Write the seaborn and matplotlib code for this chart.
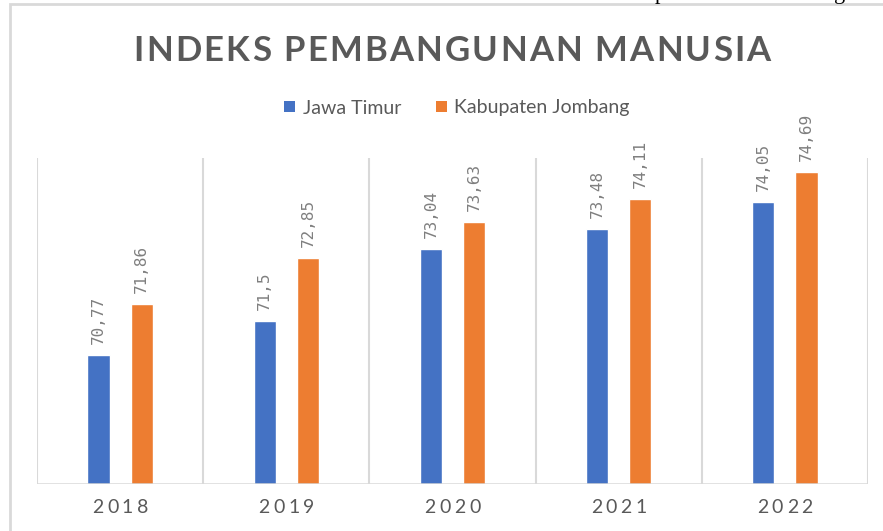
import numpy as np
import pandas as pd
import matplotlib
matplotlib.use("Agg")
import matplotlib.pyplot as plt
import matplotlib.transforms as mtransforms
from matplotlib.patches import Rectangle, Patch
from matplotlib.textpath import TextToPath
from matplotlib.font_manager import FontProperties
import seaborn as sns

# ---------------- data ----------------
years = ["2018", "2019", "2020", "2021", "2022"]
jawa_timur = [70.77, 71.5, 73.04, 73.48, 74.05]
jombang = [71.86, 72.85, 73.63, 74.11, 74.69]
series_names = ["Jawa Timur", "Kabupaten Jombang"]
title_text = "INDEKS PEMBANGUNAN MANUSIA"

df = pd.DataFrame({
    "year": years * 2,
    "value": jawa_timur + jombang,
    "series": [series_names[0]] * len(years) + [series_names[1]] * len(years),
})

BLUE = "#4472C4"
ORANGE = "#ED7D31"
GRID = "#D9D9D9"
TXT = "#595959"
FONT = "Lato"

sns.set_theme(style="white")
plt.rcParams["font.family"] = [FONT, "DejaVu Sans"]

W, H = 883, 531
fig = plt.figure(figsize=(W / 100, H / 100), dpi=100)
ax = fig.add_axes([37 / W, 1 - 484 / H, (868 - 37) / W, (484 - 158) / H])

sns.barplot(data=df, x="year", y="value", hue="series", palette=[BLUE, ORANGE],
            width=0.52, gap=0.49, ax=ax, legend=False, saturation=1)
ax.set_ylim(68, 75)
ax.set_xlim(-0.5, len(years) - 0.5)

# value labels
for cont, vals in zip(ax.containers, [jawa_timur, jombang]):
    labels = [f"{v:g}".replace(".", ",") for v in vals]
    ax.bar_label(cont, labels=labels, rotation=90, padding=8, fontsize=11.5,
                 color="#7F7F7F", family="DejaVu Sans Mono")

# gridlines between categories
for b in np.arange(-0.5, len(years), 1.0):
    ax.axvline(b, color=GRID, lw=1.5, zorder=0)
for s in ax.spines.values():
    s.set_visible(False)
ax.axhline(68, color=GRID, lw=1.8, zorder=3)
ax.set_yticks([])
ax.set_xticks(range(len(years)))
ax.set_xticklabels([])
ax.tick_params(length=0)
ax.set_xlabel("")
ax.set_ylabel("")

t2p = TextToPath()


def spaced_text(x, y, s, size, spacing_pt, color, weight, transform):
    prop = FontProperties(family=FONT, size=size, weight=weight)
    widths = []
    for c in s:
        if c == " ":
            widths.append(size * 0.23)
        else:
            widths.append(t2p.get_text_width_height_descent(c, prop, ismath=False)[0])
    total = sum(widths) + spacing_pt * (len(s) - 1)
    cur = -total / 2
    for c, w in zip(s, widths):
        if c != " ":
            tr = transform + mtransforms.ScaledTranslation(cur / 72, 0, fig.dpi_scale_trans)
            fig.text(x, y, c, transform=tr, ha="left", va="baseline",
                     fontproperties=prop, color=color)
        cur += w + spacing_pt


# x tick labels (letter-spaced)
blend = mtransforms.blended_transform_factory(ax.transData, fig.transFigure)
for i, yr in enumerate(years):
    spaced_text(i, 1 - 513 / H, yr, 14, 2.6, TXT, "normal", blend)

# title
spaced_text(452 / W, 1 - 61 / H, title_text, 25, 1.6, TXT, "bold", fig.transFigure)

# legend
handles = [Patch(facecolor=BLUE, edgecolor="none"), Patch(facecolor=ORANGE, edgecolor="none")]
fig.legend(handles, series_names, loc="center", bbox_to_anchor=(457 / W, 1 - 108 / H),
           ncol=2, frameon=False, fontsize=14, handlelength=0.55, handleheight=0.55,
           handletextpad=0.4, columnspacing=1.8, labelcolor=TXT)

# chart border
fig.add_artist(Rectangle((10 / W, -0.1), 1.2, 1.1 - 4 / H, transform=fig.transFigure,
                         fill=False, edgecolor=GRID, lw=2))

# cut-off document text above the chart (only descenders visible)
for xx, ch in [(655, "p"), (834, "g")]:
    fig.text(xx / W, 1 + 1.5 / H, ch, fontsize=16, family="Liberation Serif",
             color="black", ha="left", va="baseline")

fig.savefig("out.png", dpi=100)
